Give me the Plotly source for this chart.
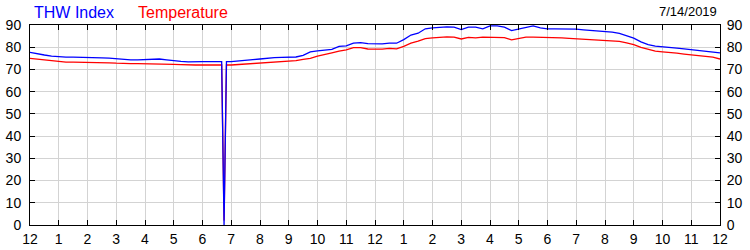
import plotly.graph_objects as go

times = ["00:00","00:15","00:30","00:45","01:00","01:15","01:30","01:45",
         "02:00","02:15","02:30","02:45","03:00","03:15","03:30","03:45",
         "04:00","04:15","04:30","04:45","05:00","05:15","05:30","05:45",
         "06:00","06:15","06:30","06:40","06:45","06:50","07:00","07:15","07:30","07:45",
         "08:00","08:15","08:30","08:45","09:00","09:15","09:30","09:45",
         "10:00","10:15","10:30","10:45","11:00","11:15","11:30","11:45",
         "12:00","12:15","12:30","12:45","13:00","13:15","13:30","13:45",
         "14:00","14:15","14:30","14:45","15:00","15:15","15:30","15:45",
         "16:00","16:15","16:30","16:45","17:00","17:15","17:30","17:45",
         "18:00","18:15","18:30","18:45","19:00","19:15","19:30","19:45",
         "20:00","20:15","20:30","20:45","21:00","21:15","21:30","21:45",
         "22:00","22:15","22:30","22:45","23:00","23:15","23:30","23:45","24:00"]

thw_index = [77.7,77.0,76.5,76.0,75.7,75.5,75.5,75.5,
             75.4,75.3,75.2,75.1,74.8,74.5,74.3,74.3,
             74.4,74.5,74.7,74.3,73.8,73.6,73.4,73.6,
             73.5,73.5,73.5,73.5,0.0,73.5,73.5,73.7,74.1,74.4,
             74.7,75.1,75.3,75.4,75.4,75.6,76.3,77.9,
             78.4,78.6,79.0,80.4,80.6,81.8,82.1,81.6,
             81.5,81.5,81.8,81.8,83.4,85.5,86.3,88.3,
             88.7,89.0,89.2,89.0,87.9,89.0,89.0,88.3,
             89.6,89.6,89.0,87.5,88.3,89.0,89.6,88.7,
             88.3,88.3,88.3,88.2,88.1,87.8,87.6,87.3,
             87.1,86.8,86.2,85.3,84.1,82.4,81.2,80.5,
             80.1,80.0,79.6,79.3,79.0,78.7,78.4,78.0,77.5]

temperature = [75.0,74.6,74.2,73.9,73.6,73.3,73.3,73.3,
               73.2,73.1,73.0,73.0,72.8,72.6,72.6,72.6,
               72.6,72.5,72.5,72.4,72.3,72.2,72.0,72.0,
               72.0,72.0,72.0,72.0,2.0,72.0,72.0,72.2,72.4,72.6,
               72.7,72.9,73.1,73.4,73.6,74.0,74.5,75.0,
               76.0,76.6,77.5,78.2,78.8,79.8,79.8,79.2,
               79.1,79.1,79.5,79.3,80.4,81.8,82.7,83.9,
               84.2,84.5,84.7,84.5,83.7,84.4,84.2,84.5,
               84.5,84.5,84.3,83.3,83.8,84.5,84.5,84.5,
               84.2,84.2,84.2,84.0,83.8,83.6,83.4,83.3,
               83.1,82.8,82.6,82.0,81.2,79.9,78.9,78.2,
               77.9,77.7,77.3,76.9,76.6,76.3,76.0,75.5,74.7]

hour_ticks = list(range(25))
hour_labels = ["12","1","2","3","4","5","6","7","8","9","10","11",
               "12","1","2","3","4","5","6","7","8","9","10","11","12"]
y_ticks = [0,10,20,30,40,50,60,70,80,90]
date_label = "7/14/2019"


def to_hours(t):
    h, m = t.split(":")
    return int(h) + int(m) / 60.0


x_vals = [to_hours(t) for t in times]

fig = go.Figure()
fig.add_trace(go.Scatter(x=x_vals, y=temperature, mode="lines",
                         line=dict(color="#ff0000", width=1.3), name="Temperature"))
fig.add_trace(go.Scatter(x=x_vals, y=thw_index, mode="lines",
                         line=dict(color="#0000ff", width=1.3), name="THW Index"))
# invisible trace to activate right axis
fig.add_trace(go.Scatter(x=[0], y=[0], yaxis="y2", mode="markers",
                         marker=dict(opacity=0), showlegend=False, hoverinfo="skip"))

font = dict(family="Liberation Sans, Arial", size=14, color="#000000")

fig.update_layout(
    width=750, height=250,
    margin=dict(l=30, r=30, t=25, b=25, autoexpand=False),
    paper_bgcolor="white", plot_bgcolor="white",
    showlegend=False,
    font=font,
    xaxis=dict(range=[0, 24], tickvals=hour_ticks, ticktext=hour_labels,
               showgrid=True, gridcolor="#d3d3d3", gridwidth=1,
               showline=True, linecolor="black", linewidth=1, mirror="ticks",
               ticks="inside", ticklen=5, tickcolor="black",
               ticklabelstandoff=1, automargin=False,
               zeroline=False, tickfont=font),
    yaxis=dict(range=[0, 90], tickvals=y_ticks,
               showgrid=True, gridcolor="#d3d3d3", gridwidth=1,
               showline=True, linecolor="black", linewidth=1,
               ticks="inside", ticklen=5, tickcolor="black",
               ticklabelstandoff=5, automargin=False,
               zeroline=False, tickfont=font),
    yaxis2=dict(range=[0, 90], tickvals=y_ticks, overlaying="y", side="right",
                showgrid=False, showline=True, linecolor="black", linewidth=1,
                ticks="inside", ticklen=5, tickcolor="black",
                ticklabelstandoff=3, automargin=False,
                zeroline=False, tickfont=font),
    annotations=[
        dict(text="THW Index", xref="paper", yref="paper", x=0.003, y=1,
             xanchor="left", yanchor="bottom", yshift=2, showarrow=False,
             font=dict(family="Liberation Sans, Arial", size=16, color="#0000ff")),
        dict(text="Temperature", xref="paper", yref="paper", x=0.153, y=1,
             xanchor="left", yanchor="bottom", yshift=2, showarrow=False,
             font=dict(family="Liberation Sans, Arial", size=16, color="#ff0000")),
        dict(text=date_label, xref="paper", yref="paper", x=0.998, y=1,
             xanchor="right", yanchor="bottom", yshift=4, showarrow=False,
             font=dict(family="Liberation Sans, Arial", size=13, color="#000000")),
    ],
)

fig.write_html("out.html")
